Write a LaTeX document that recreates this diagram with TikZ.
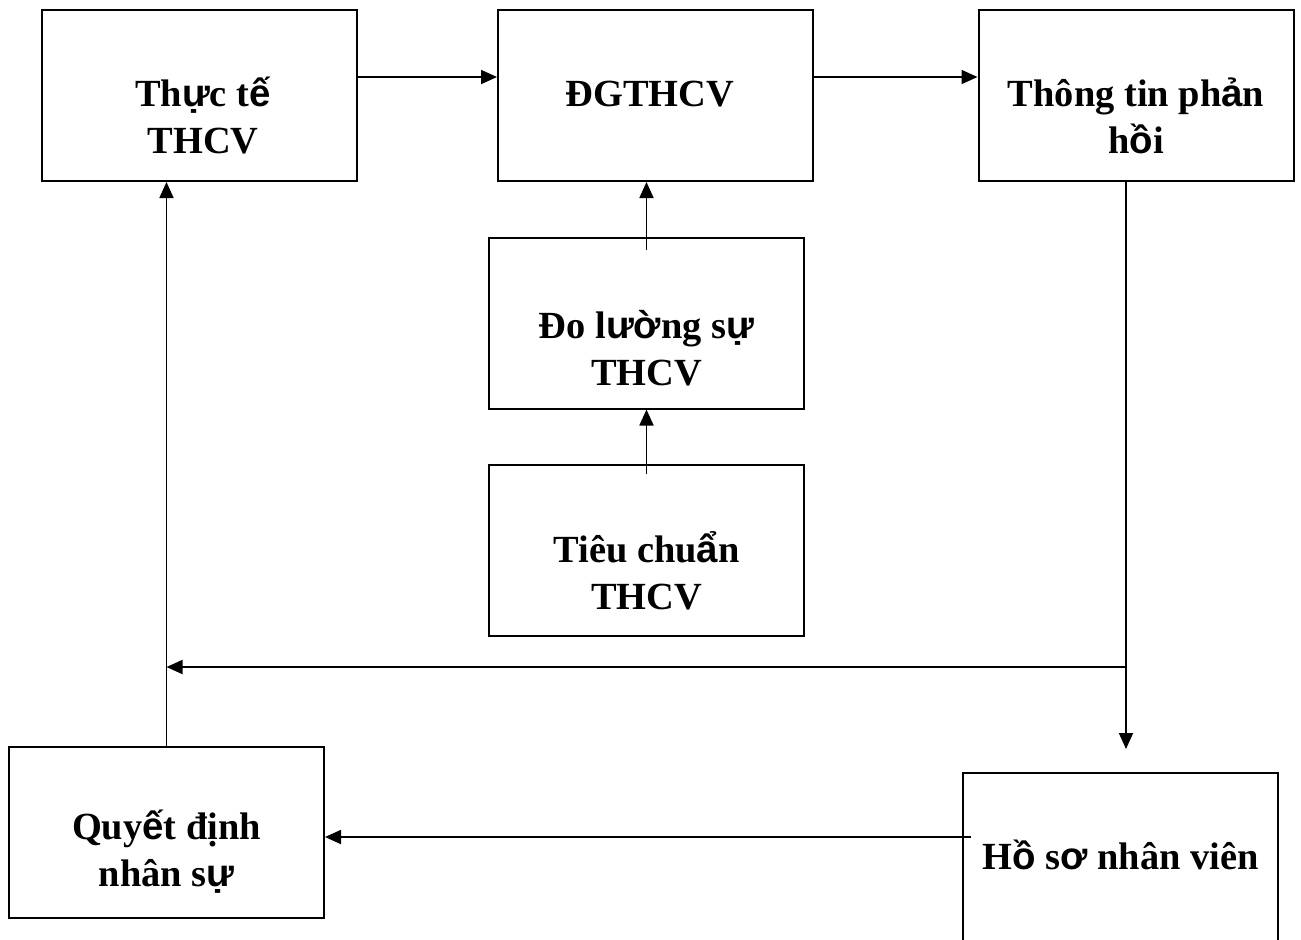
\documentclass[tikz,border=0pt]{standalone}
\usepackage{fontspec}
\setmainfont{Liberation Serif}
\newfontfamily\altfont{Liberation Sans}
\usetikzlibrary{arrows.meta}

\begin{document}
\begin{tikzpicture}[x=0.5pt,y=-0.5pt,
   box/.style={draw,line width=1pt,minimum width=157.5pt,minimum height=85.5pt,inner sep=0pt},
   txt/.style={align=center,inner sep=0pt,font=\bfseries\fontsize{19.2}{23.5}\selectfont},
   ln/.style={line width=0.9pt},
   arr/.style={ln,-{Triangle[length=8pt,width=7pt]}}]
\useasboundingbox (0,0) rectangle (1301,939);
\clip (0,0) rectangle (1301,939);
% boxes
\node[box] (thucte) at (199.5,95.5) {};
\node[box] (dgthcv) at (655.5,95.5) {};
\node[box] (thongtin) at (1136,95.5) {};
\node[box] (doluong) at (646.5,323) {};
\node[box] (tieuchuan) at (646.5,550) {};
\node[box] (quyetdinh) at (166.5,832) {};
\node[box] (hoso) at (1120.5,858) {};
% texts
\node[txt] (thucte-t) at (203,116) {Th{\altfont ự}c t{\altfont ế}\\THCV};
\node[txt] (dgthcv-t) at (650,94) {ĐGTHCV};
\node[txt] (thongtin-t) at (1136,116) {Thông tin ph{\altfont ả}n\\h{\altfont ồ}i};
\node[txt] (doluong-t) at (646.5,348) {Đo l{\altfont ườ}ng s{\altfont ự}\\THCV};
\node[txt] (tieuchuan-t) at (646.5,571) {Tiêu chu{\altfont ẩ}n\\THCV};
\node[txt] (quyetdinh-t) at (166.5,852) {Quy{\altfont ế}t định\\nhân s{\altfont ự}};
\node[txt] (hoso-t) at (1120.5,855) {H{\altfont ồ} s{\altfont ơ} nhân viên};
% connectors
\coordinate (junc) at (1126,667);
\coordinate (hosotip) at (1126,749);
\coordinate (hosoout) at (971,837);
\draw[arr] (thucte.east |- 0,77) -- (dgthcv.west |- 0,77);
\draw[arr] (dgthcv.east |- 0,77) -- (thongtin.west |- 0,77);
\draw[arr] ([yshift=-6.5pt]doluong.north) -- (doluong.north |- dgthcv.south);
\draw[arr] ([yshift=-5pt]tieuchuan.north) -- (doluong.south);
\draw[arr] (thongtin.south -| junc) -- (hosotip);
\draw[arr] (junc) -- (quyetdinh.north |- junc);
\draw[arr] (quyetdinh.north) -- (quyetdinh.north |- thucte.south);
\draw[arr] (hosoout) -- (quyetdinh.east |- hosoout);
\end{tikzpicture}
\end{document}
